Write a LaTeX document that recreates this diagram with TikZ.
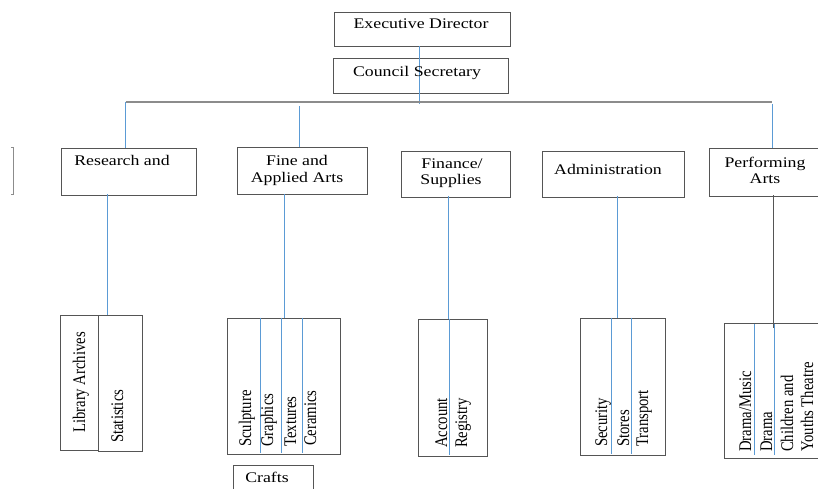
\documentclass[tikz,border=0pt]{standalone}
\usepackage{fontspec}
\setmainfont{Liberation Serif}
\usepackage{graphicx}
\definecolor{boxgray}{HTML}{555555}
\definecolor{bargray}{HTML}{8C8C8C}
\definecolor{lineblue}{HTML}{5B9BD5}
\newcommand\hs[1]{\scalebox{1.21}[1]{#1}}
\newcommand\vs[1]{\scalebox{1}[1.21]{#1}}
\tikzset{
  box/.style={draw=boxgray, line width=0.9pt, rectangle, inner sep=0pt, anchor=north west},
  bl/.style={draw=lineblue, line width=1pt},
  gl/.style={draw=bargray, line width=1.4pt},
  dl/.style={draw=boxgray, line width=0.9pt},
  ht/.style={anchor=base, inner sep=0pt, font=\fontsize{14.7pt}{17pt}\selectfont},
  vt/.style={anchor=base west, rotate=90, inner sep=0pt, font=\fontsize{14.7pt}{17pt}\selectfont},
}
\begin{document}
\begin{tikzpicture}[x=1pt,y=-1pt]
\useasboundingbox (0,0) rectangle (818,488);
\clip (0,0) rectangle (818,488);
\fill[white] (0,0) rectangle (818,488);
% level 1
\node[box, minimum width=176pt, minimum height=34pt] (ed) at (333.5,11.5) {};
\node[box, minimum width=175pt, minimum height=35pt] (cs) at (332.5,57.5) {};
% level 2
\node[box, minimum width=135pt, minimum height=47pt] (res) at (60.5,147.5) {};
\node[box, minimum width=130pt, minimum height=47pt] (fine) at (236.5,146.5) {};
\node[box, minimum width=109pt, minimum height=46pt] (fin) at (400.5,150.5) {};
\node[box, minimum width=142pt, minimum height=46pt] (adm) at (541.5,150.5) {};
\node[box, minimum width=120pt, minimum height=48pt] (perf) at (708.5,147.5) {};
% level 3
\node[box, minimum width=38pt, minimum height=135pt] (lib) at (59.5,314.5) {};
\node[box, minimum width=44pt, minimum height=136pt] (stat) at (97.5,314.5) {};
\node[box, minimum width=113pt, minimum height=136pt] (fa3) at (226.5,317.5) {};
\node[box, minimum width=80pt, minimum height=40pt] (crafts) at (232.5,464.5) {};
\node[box, minimum width=69pt, minimum height=137pt] (fin3) at (417.5,318.5) {};
\node[box, minimum width=85pt, minimum height=137pt] (adm3) at (579.5,317.5) {};
\node[box, minimum width=110pt, minimum height=135pt] (perf3) at (723.5,322.5) {};
% left bracket
\draw[dl, draw=bargray] (11,147.5) -- (13.5,147.5) -- (13.5,194.5) -- (11,194.5);
% connectors top
\coordinate (hL) at (125.5,102);
\coordinate (hR) at (771.5,102);
\coordinate (hE) at (419.5,104);
\draw[bl] (ed.south -| hE) -- (hE);
\draw[gl] (hL) -- (hR);
\draw[bl] (hL) -- (hL |- res.north);
\coordinate (hF) at (299.5,106);
\draw[bl] (hF) -- (hF |- fine.north);
\coordinate (hP) at (772.5,104);
\draw[bl] (hP) -- (hP |- perf.north);
% connectors to level 3
\coordinate (rr) at (107.5,194);
\draw[bl] (rr) -- (rr |- stat.north);
\coordinate (ff) at (284.5,194);
\draw[bl] (ff) -- (ff |- fa3.north);
\coordinate (fn) at (448.5,196);
\draw[bl] (fn) -- (fn |- fin3.north);
\coordinate (aa) at (617.5,196);
\draw[bl] (aa) -- (aa |- adm3.north);
\coordinate (pp) at (773.5,195);
\draw[dl] (pp) -- (773.5,328);
% dividers
\foreach \x in {260.5,281.5,302.5} \draw[bl] (\x,317.5) -- (\x,453);
\draw[bl] (449.5,318.5) -- (449.5,455);
\foreach \x in {611.5,631.5} \draw[bl] (\x,317.5) -- (\x,454);
\foreach \x in {754.5,774.5} \draw[bl] (\x,324) -- (\x,455);
% horizontal texts
\node[ht] (t1) at (421,28) {\hs{Executive Director}};
\node[ht] (t2) at (417,76) {\hs{Council Secretary}};
\node[ht] (t3) at (122,165) {\hs{Research and}};
\node[ht] (t4) at (297,165) {\hs{Fine and}};
\node[ht] (t5) at (297,182) {\hs{Applied Arts}};
\node[ht] (t6) at (452,168) {\hs{Finance/}};
\node[ht] (t7) at (451,184) {\hs{Supplies}};
\node[ht] (t8) at (608,174) {\hs{Administration}};
\node[ht] (t9) at (765,167) {\hs{Performing}};
\node[ht] (t10) at (765,183) {\hs{Arts}};
\node[ht] (t11) at (267,482) {\hs{Crafts}};
% rotated texts
\node[vt] (v1) at (85,433) {\vs{Library Archives}};
\node[vt] (v2) at (123,443) {\vs{Statistics}};
\node[vt] (v3) at (251,447) {\vs{Sculpture}};
\node[vt] (v4) at (273,447) {\vs{Graphics}};
\node[vt] (v5) at (296,447) {\vs{Textures}};
\node[vt] (v6) at (316,446) {\vs{Ceramics}};
\node[vt] (v7) at (447,448) {\vs{Account}};
\node[vt] (v8) at (467,448) {\vs{Registry}};
\node[vt] (v9) at (607,447) {\vs{Security}};
\node[vt] (v10) at (629,447) {\vs{Stores}};
\node[vt] (v11) at (648,447) {\vs{Transport}};
\node[vt] (v12) at (751,452) {\vs{Drama/Music}};
\node[vt] (v13) at (772,452) {\vs{Drama}};
\node[vt] (v14) at (793,452) {\vs{Children and}};
\node[vt] (v15) at (813,452) {\vs{Youths Theatre}};
\end{tikzpicture}
\end{document}
